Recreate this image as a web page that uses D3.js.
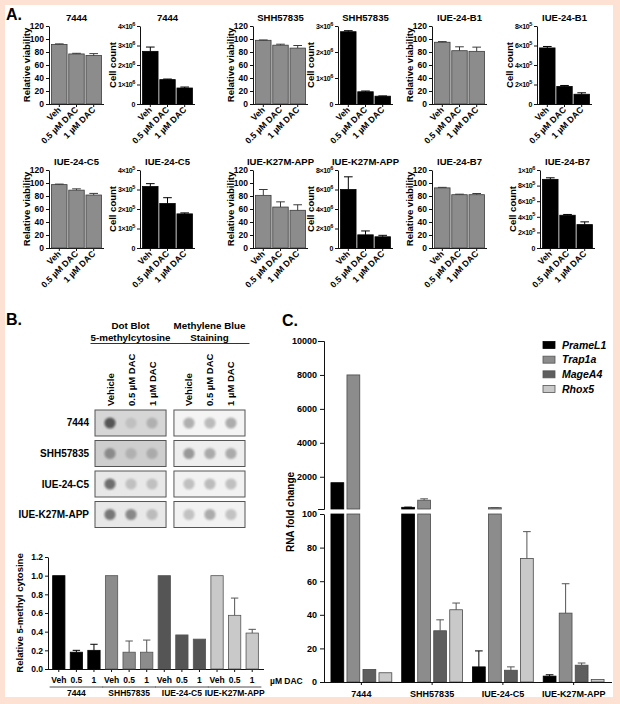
<!DOCTYPE html>
<html>
<head>
<meta charset="utf-8">
<script src="https://cdn.jsdelivr.net/npm/d3@7"></script>
<style>
  body { margin: 0; background: #fde2d4; }
  svg { display: block; font-family: "Liberation Sans", Arial, sans-serif; font-weight: bold; }
</style>
</head>
<body>
<div id="fig"></div>
<script>
/* ---------- panel A data ---------- */
const TREATMENTS = ['Veh', '0.5 µM DAC', '1 µM DAC'];
const A_LINES = ['7444', 'SHH57835', 'IUE-24-B1', 'IUE-24-C5', 'IUE-K27M-APP', 'IUE-24-B7'];
const viabMean = [[91.5, 77, 74.5], [98, 90.5, 86], [95, 82, 81], [97.5, 89, 81.5], [81, 63, 58], [92.5, 82, 82]];
const viabErr = [[1, 1, 3], [0.5, 1.5, 4], [1, 6, 6.5], [0.8, 2, 2.5], [9, 8, 8.5], [0.8, 0.8, 1.8]];
const viabTicks = [0, 20, 40, 60, 80, 100, 120];
const countMean = [[2.7e6, 1.25e6, 0.82e6], [2.78e6, 0.47e6, 0.3e6], [5.75e5, 1.8e5, 1.0e5],
                   [3.15e5, 2.28e5, 1.75e5], [6.0e6, 1.35e6, 1.15e6], [8.8e5, 4.2e5, 3.0e5]];
const countErr = [[0.22e6, 0.03e6, 0.05e6], [0.04e6, 0.03e6, 0.01e6], [0.15e5, 0.1e5, 0.15e5],
                  [0.15e5, 0.3e5, 0.05e5], [1.3e6, 0.4e6, 0.15e6], [0.2e5, 0.1e5, 0.35e5]];
const countMax = [4e6, 3e6, 8e5, 4e5, 8e6, 1e6];
const countStep = [1e6, 1e6, 2e5, 1e5, 2e6, 2e5];

/* ---------- panel B data ---------- */
const B_LINES = ['7444', 'SHH57835', 'IUE-24-C5', 'IUE-K27M-APP'];
const BLOT_COLS = ['Vehicle', '0.5 µM DAC', '1 µM DAC'];
const STAINS = ['Dot Blot|5-methylcytosine', 'Methylene Blue|Staining'];
// dot grey levels (0 = black, 255 = white) per line, per stain, per treatment
const dotGrey = [
  [[85, 192, 176], [176, 187, 172]],
  [[138, 176, 170], [153, 170, 170]],
  [[110, 192, 192], [192, 188, 192]],
  [[119, 136, 187], [194, 172, 194]]
];
const membraneGrey = [[214, 244], [206, 238], [232, 242], [232, 242]];
const DOSES = ['Veh', '0.5', '1'];
const methylMean = [[1, 0.18, 0.2], [1, 0.18, 0.18], [1, 0.365, 0.32], [1, 0.575, 0.385]];
const methylErr = [[0, 0.02, 0.065], [0, 0.12, 0.13], [0, 0, 0], [0, 0.185, 0.04]];
const methylTicks = [0, 0.2, 0.4, 0.6, 0.8, 1.0, 1.2];

/* ---------- panel C data ---------- */
const GENES = ['PrameL1', 'Trap1a', 'MageA4', 'Rhox5'];
const C_LINES = ['7444', 'SHH57835', 'IUE-24-C5', 'IUE-K27M-APP'];
const rnaMean = [[1650, 8000, 7.5, 5.5], [200, 620, 30.5, 43], [9, 180, 7, 73.5], [3.5, 41, 10, 1.5]];
const rnaErr = [[0, 0, 0, 0], [10, 80, 6.5, 4], [9.5, 5, 2, 16], [0.8, 17.5, 1.3, 0]];
const rnaTicksLow = [0, 20, 40, 60, 80, 100];
const rnaTicksHigh = [2000, 4000, 6000, 8000, 10000];

const GENE_COLORS = ['#000000', '#8c8c8c', '#5e5e5e', '#c9c9c9'];
const LINE_COLORS = ['#000000', '#8c8c8c', '#555555', '#c9c9c9'];

const W = 620, H = 704;
const svg = d3.select('#fig').append('svg').attr('width', W).attr('height', H);
svg.append('rect').attr('width', W).attr('height', H).attr('fill', '#fde2d4');
svg.append('rect').attr('x', 5).attr('y', 5).attr('width', 608).attr('height', 692).attr('fill', '#fff');

const defs = svg.append('defs');
defs.append('filter').attr('id', 'soft').append('feGaussianBlur').attr('stdDeviation', 0.9);

function styleAxis(g, fs) {
  g.attr('font-family', null).attr('font-size', fs);
  g.selectAll('path, line').attr('stroke', '#111');
}

// "4×10⁶" style tick text
function sciLabel(t, v) {
  t.text(null);
  if (v === 0) { t.text('0'); return; }
  const e = Math.floor(Math.log10(v) + 1e-9);
  const m = Math.round(v / Math.pow(10, e));
  t.append('tspan').text(m + '×10');
  t.append('tspan').attr('dy', '-0.55em').attr('font-size', '0.8em').text(e);
}

function errPath(cx, y1, y2, w) {
  return `M${cx},${y1}V${y2}M${cx - w},${y2}H${cx + w}`;
}

/* ---------- panel labels ---------- */
[['A.', 6, 20], ['B.', 6, 325], ['C.', 282, 326]].forEach(([t, x, y]) =>
  svg.append('text').attr('x', x).attr('y', y).attr('font-size', 16).text(t));

/* ---------- panel A: small bar charts ---------- */
const A_ROWS = [{ top: 26, bottom: 104 }, { top: 170, bottom: 248 }];
const A_AXIS_X = [[49, 140, 253, 338, 432, 537], [49, 140, 253, 338, 432, 540]];
const A_PLOT_W = 55;

function smallChart(o) {
  const g = svg.append('g');
  const x = d3.scaleBand().domain(TREATMENTS)
    .range([o.x0, o.x0 + A_PLOT_W]).paddingInner(0.1).paddingOuter(0.15);
  const y = d3.scaleLinear().domain([0, o.max]).range([o.bottom, o.top]);

  const ya = g.append('g').attr('transform', `translate(${o.x0},0)`)
    .call(d3.axisLeft(y).tickValues(o.ticks).tickSize(3).tickSizeOuter(0).tickPadding(2)
      .tickFormat(o.sci ? () => '' : d3.format('d')));
  styleAxis(ya, o.sci ? 7 : 8.5);
  if (o.sci) {
    ya.selectAll('.tick text').attr('letter-spacing', -0.4)
      .each(function (d) { sciLabel(d3.select(this), d); });
  }

  const xa = g.append('g').attr('transform', `translate(0,${o.bottom})`)
    .call(d3.axisBottom(x).tickSize(3).tickSizeOuter(0));
  styleAxis(xa, 8.7);
  xa.select('.domain').attr('d', `M${o.x0},0.5H${o.x0 + A_PLOT_W}`);
  xa.selectAll('.tick text')
    .attr('transform', 'rotate(-45)').attr('text-anchor', 'end')
    .attr('x', -3).attr('y', 3).attr('dy', '0.35em');

  const rows = o.means.map((m, i) => ({ t: TREATMENTS[i], m, e: o.errs[i] }));
  g.selectAll('rect.bar').data(rows).enter().append('rect')
    .attr('x', d => x(d.t)).attr('width', x.bandwidth())
    .attr('y', d => y(d.m)).attr('height', d => y(0) - y(d.m))
    .attr('fill', o.fill).attr('stroke', o.stroke).attr('stroke-width', 0.8);
  g.selectAll('path.err').data(rows.filter(d => d.e > 0)).enter().append('path')
    .attr('d', d => errPath(x(d.t) + x.bandwidth() / 2, y(d.m), y(d.m + d.e), x.bandwidth() * 0.28))
    .attr('fill', 'none').attr('stroke', o.stroke).attr('stroke-width', 1);

  g.append('text').attr('x', o.x0 + A_PLOT_W / 2).attr('y', o.top - 5)
    .attr('text-anchor', 'middle').attr('font-size', 9.5).text(o.title);
  g.append('text')
    .attr('transform', `translate(${o.x0 - o.labelOff},${(o.top + o.bottom) / 2}) rotate(-90)`)
    .attr('text-anchor', 'middle').attr('font-size', 9.5).text(o.ylabel);
}

A_LINES.forEach((name, i) => {
  const r = Math.floor(i / 3), c = (i % 3) * 2;
  const row = A_ROWS[r];
  smallChart({
    x0: A_AXIS_X[r][c], top: row.top, bottom: row.bottom, title: name,
    means: viabMean[i], errs: viabErr[i], max: 120, ticks: viabTicks,
    fill: '#8c8c8c', stroke: '#3a3a3a', ylabel: 'Relative viability', labelOff: 19, sci: false
  });
  smallChart({
    x0: A_AXIS_X[r][c + 1], top: row.top, bottom: row.bottom, title: name,
    means: countMean[i], errs: countErr[i], max: countMax[i],
    ticks: d3.range(0, countMax[i] + countStep[i] / 2, countStep[i]),
    fill: '#000', stroke: '#000', ylabel: 'Cell count', labelOff: 24, sci: true
  });
});

/* ---------- panel B: dot blot ---------- */
const blotY = d3.scaleBand().domain(B_LINES).range([410, 527.5]).paddingInner(0.148);
const blotX = d3.scaleBand().domain(STAINS).range([95, 245]).paddingInner(0.1);
const dotX = d3.scalePoint().domain(BLOT_COLS).range([15, 57]);
const grey = v => d3.rgb(v, v, v).toString();

STAINS.forEach((s, si) => {
  const cx = blotX(s) + blotX.bandwidth() / 2;
  const lines = s.split('|');
  lines.forEach((t, li) => svg.append('text').attr('x', cx).attr('y', 329 + li * 12)
    .attr('text-anchor', 'middle').attr('font-size', 9.8).text(t));
  svg.append('line').attr('x1', cx - 40).attr('x2', cx + 40).attr('y1', 343.5).attr('y2', 343.5)
    .attr('stroke', '#333').attr('stroke-width', 1);
  BLOT_COLS.forEach(c => {
    svg.append('text')
      .attr('transform', `translate(${blotX(s) + dotX(c) + 3.5},406) rotate(-90)`)
      .attr('font-size', 9.5).text(c);
  });
});

B_LINES.forEach((name, li) => {
  const y0 = blotY(name), bh = blotY.bandwidth();
  svg.append('text').attr('x', 89).attr('y', y0 + bh / 2 + 3.5)
    .attr('text-anchor', 'end').attr('font-size', 10).text(name);
  STAINS.forEach((s, si) => {
    svg.append('rect').attr('x', blotX(s)).attr('y', y0)
      .attr('width', blotX.bandwidth()).attr('height', bh)
      .attr('fill', grey(membraneGrey[li][si])).attr('stroke', '#555').attr('stroke-width', 1);
    BLOT_COLS.forEach((c, ci) => {
      svg.append('circle').attr('cx', blotX(s) + dotX(c)).attr('cy', y0 + bh / 2).attr('r', 5.6)
        .attr('fill', grey(dotGrey[li][si][ci])).attr('filter', 'url(#soft)');
    });
  });
});

/* ---------- panel B: 5-methyl cytosine bars ---------- */
(function () {
  const items = [];
  B_LINES.forEach((gname, gi) => DOSES.forEach((d, di) =>
    items.push({ key: gname + '|' + d, gi, d, m: methylMean[gi][di], e: methylErr[gi][di] })));
  const x = d3.scaleBand().domain(items.map(d => d.key)).range([50, 261]).paddingInner(0.3).paddingOuter(0.15);
  const y = d3.scaleLinear().domain([0, 1.2]).range([669, 557]);
  const g = svg.append('g');

  const ya = g.append('g').attr('transform', 'translate(48,0)')
    .call(d3.axisLeft(y).tickValues(methylTicks).tickFormat(d3.format('.1f')).tickSize(3).tickSizeOuter(0).tickPadding(2));
  styleAxis(ya, 8.5);
  const xa = g.append('g').attr('transform', 'translate(0,669)')
    .call(d3.axisBottom(x).tickSize(3).tickSizeOuter(0).tickFormat(k => k.split('|')[1]).tickPadding(5));
  styleAxis(xa, 8.5);
  xa.select('.domain').attr('d', 'M48,0.5H264');

  g.append('text').attr('x', 270).attr('y', 684).attr('font-size', 8.5).text('µM DAC');

  B_LINES.forEach((gname, gi) => {
    const a = x(gname + '|' + DOSES[0]) - 3, b = x(gname + '|' + DOSES[2]) + x.bandwidth() + 3;
    g.append('line').attr('x1', a).attr('x2', b).attr('y1', 687).attr('y2', 687)
      .attr('stroke', '#222').attr('stroke-width', 0.8);
    g.append('text').attr('x', (a + b) / 2).attr('y', 695.5).attr('text-anchor', 'middle')
      .attr('font-size', 8.5).text(gname);
  });

  g.selectAll('rect.mb').data(items).enter().append('rect')
    .attr('x', d => x(d.key)).attr('width', x.bandwidth())
    .attr('y', d => y(d.m)).attr('height', d => y(0) - y(d.m))
    .attr('fill', d => LINE_COLORS[d.gi]).attr('stroke', d => d.gi === 0 ? '#000' : '#555').attr('stroke-width', 0.8);
  g.selectAll('path.me').data(items.filter(d => d.e > 0)).enter().append('path')
    .attr('d', d => errPath(x(d.key) + x.bandwidth() / 2, y(d.m), y(d.m + d.e), x.bandwidth() * 0.3))
    .attr('fill', 'none').attr('stroke', d => d.gi === 0 ? '#000' : '#555').attr('stroke-width', 1);

  g.append('text').attr('transform', 'translate(23,613) rotate(-90)')
    .attr('text-anchor', 'middle').attr('font-size', 9.5).text('Relative 5-methyl cytosine');
})();

/* ---------- panel C: RNA fold change with broken axis ---------- */
(function () {
  const x0 = d3.scaleBand().domain(C_LINES).range([326, 609]).paddingInner(0.14).paddingOuter(0.07);
  const x1 = d3.scaleBand().domain(GENES).range([0, x0.bandwidth()]).paddingInner(0.2);
  const yLow = d3.scaleLinear().domain([0, 100]).range([682, 514]);
  const yHigh = d3.scaleLinear().domain([100, 10000]).range([509, 341]);
  const yv = v => (v <= 100 ? yLow(v) : yHigh(v));
  const g = svg.append('g');

  const items = [];
  C_LINES.forEach((c, ci) => GENES.forEach((gn, gi) =>
    items.push({ c, gn, gi, m: rnaMean[ci][gi], e: rnaErr[ci][gi] })));
  const bx = d => x0(d.c) + x1(d.gn);

  // lower segment (0-100)
  g.selectAll('rect.lo').data(items).enter().append('rect')
    .attr('x', bx).attr('width', x1.bandwidth())
    .attr('y', d => yLow(Math.min(d.m, 100))).attr('height', d => yLow(0) - yLow(Math.min(d.m, 100)))
    .attr('fill', d => GENE_COLORS[d.gi]).attr('stroke', d => d.gi === 0 ? '#000' : '#4a4a4a').attr('stroke-width', 0.8);
  // upper segment (100-10000)
  g.selectAll('rect.hi').data(items.filter(d => d.m > 100)).enter().append('rect')
    .attr('x', bx).attr('width', x1.bandwidth())
    .attr('y', d => yHigh(d.m)).attr('height', d => yHigh(100) - yHigh(d.m))
    .attr('fill', d => GENE_COLORS[d.gi]).attr('stroke', d => d.gi === 0 ? '#000' : '#4a4a4a').attr('stroke-width', 0.8);
  g.selectAll('path.ce').data(items.filter(d => d.e > 0)).enter().append('path')
    .attr('d', d => errPath(bx(d) + x1.bandwidth() / 2, yv(d.m), yv(d.m + d.e), x1.bandwidth() * 0.3))
    .attr('fill', 'none').attr('stroke', d => d.gi === 0 ? '#000' : '#555').attr('stroke-width', 1);

  const yl = g.append('g').attr('transform', 'translate(324,0)')
    .call(d3.axisLeft(yLow).tickValues(rnaTicksLow).tickFormat(d3.format('d')).tickSize(4).tickSizeOuter(0).tickPadding(3));
  styleAxis(yl, 9);
  const yh = g.append('g').attr('transform', 'translate(324,0)')
    .call(d3.axisLeft(yHigh).tickValues(rnaTicksHigh).tickFormat(d3.format('d')).tickSize(4).tickSizeOuter(6).tickPadding(3));
  styleAxis(yh, 9);

  const xa = g.append('g').attr('transform', 'translate(0,682)')
    .call(d3.axisBottom(x0).tickSize(3).tickSizeOuter(0).tickPadding(6));
  styleAxis(xa, 9);
  xa.select('.domain').attr('d', 'M324,0.5H612');

  g.append('text').attr('transform', 'translate(294,512) rotate(-90)')
    .attr('text-anchor', 'middle').attr('font-size', 10).text('RNA fold change');

  const legY = d3.scalePoint().domain(GENES).range([345, 389]);
  GENES.forEach((gn, gi) => {
    g.append('rect').attr('x', 543).attr('y', legY(gn) - 3.5).attr('width', 12).attr('height', 7)
      .attr('fill', GENE_COLORS[gi]).attr('stroke', gi === 0 ? '#000' : '#555').attr('stroke-width', 0.8);
    g.append('text').attr('x', 562).attr('y', legY(gn) + 3.8).attr('font-size', 10.5)
      .attr('font-style', 'italic').text(gn);
  });
})();
</script>
</body>
</html>
